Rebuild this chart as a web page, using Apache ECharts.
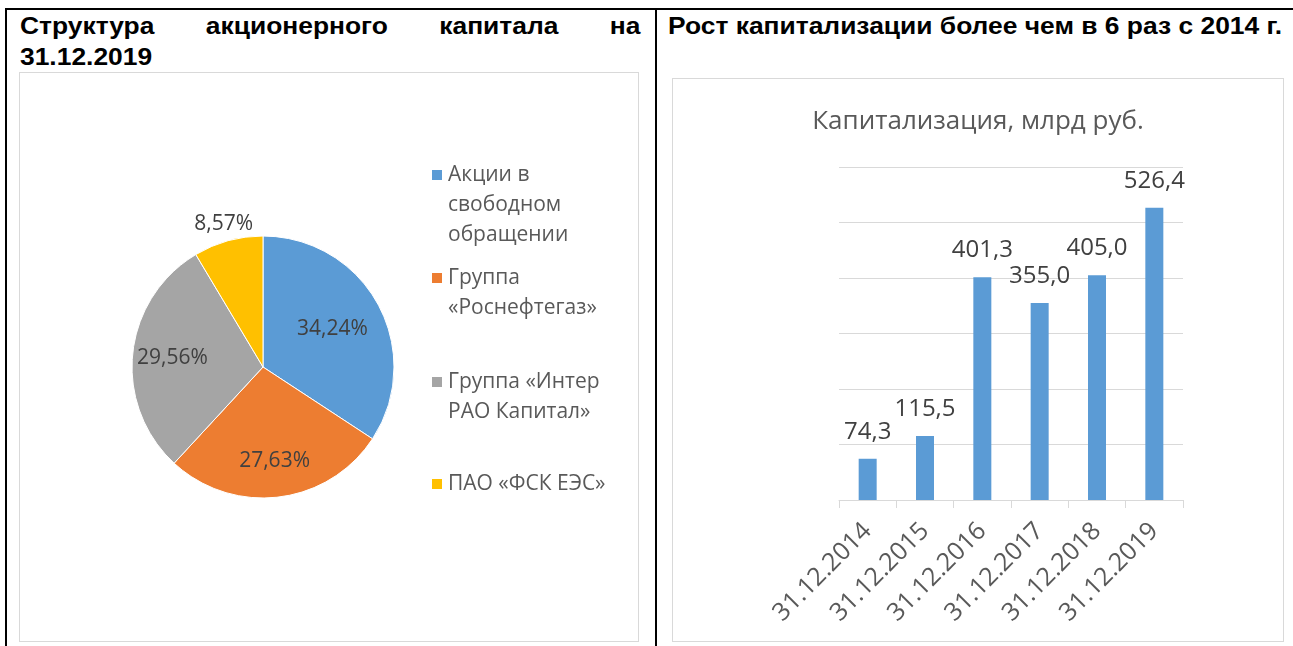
<!DOCTYPE html>
<html>
<head>
<meta charset="utf-8">
<script src="https://cdn.jsdelivr.net/npm/echarts@6/dist/echarts.min.js"></script>
<style>
  html, body {
    margin: 0;
    padding: 0;
    width: 1293px;
    height: 646px;
    overflow: hidden;
    background: #fff;
  }
  .line {
    position: absolute;
    background: #000;
  }
  .head {
    position: absolute;
    font-family: 'Liberation Sans', Arial, sans-serif;
    font-weight: bold;
    font-size: 24px;
    line-height: 31px;
    color: #000;
    transform: scaleX(1.1);
    transform-origin: 0 0;
  }
  .head-row {
    display: flex;
    justify-content: space-between;
  }
  .box {
    position: absolute;
    box-sizing: border-box;
    border: 1px solid #d9d9d9;
  }
  .chart {
    width: 100%;
    height: 100%;
  }
</style>
</head>
<body>
  <div class="line" style="left:5px; top:8px; width:1288px; height:2px;"></div>
  <div class="line" style="left:5px; top:8px; width:2px; height:638px;"></div>
  <div class="line" style="left:655px; top:8px; width:2px; height:638px;"></div>

  <div class="head" style="left:20px; top:10px; width:564px;">
    <div class="head-row"><span>Структура</span><span>акционерного</span><span>капитала</span><span>на</span></div>
    <div>31.12.2019</div>
  </div>
  <div class="head" style="left:668px; top:10px; width:570px; white-space:nowrap;">Рост капитализации более чем в 6 раз с 2014 г.</div>

  <div class="box" style="left:19px; top:72px; width:620px; height:570px;">
    <div class="chart" id="pieChart"></div>
  </div>
  <div class="box" style="left:672px; top:78px; width:612px; height:564px;">
    <div class="chart" id="barChart"></div>
  </div>

<script>
// структура акционерного капитала, %
const shareNames = ['Акции в свободном обращении', 'Группа «Роснефтегаз»', 'Группа «Интер РАО Капитал»', 'ПАО «ФСК ЕЭС»']
const shareLabels = ['Акции в\nсвободном\nобращении', 'Группа\n«Роснефтегаз»', 'Группа «Интер\nРАО Капитал»', 'ПАО «ФСК ЕЭС»']
const shareValues = [34.24, 27.63, 29.56, 8.57]

// капитализация, млрд руб.
const capDates = ['31.12.2014', '31.12.2015', '31.12.2016', '31.12.2017', '31.12.2018', '31.12.2019']
const capValues = [74.3, 115.5, 401.3, 355.0, 405.0, 526.4]

const FONT = "'Open Sans', 'Noto Sans', sans-serif"
const pieColors = ['#5b9bd5', '#ed7d31', '#a5a5a5', '#ffc000']

// геометрия круга и подписей (в пикселях контейнера)
const pieCx = 243
const pieCy = 294
const pieR = 131
const labelDist = [79, 95, 91, 148]
const legendTops = [87, 190, 294, 396]
const LEGEND_LH = 30
const MARK = 12

const pieChart = echarts.init(document.getElementById('pieChart'))

const total = shareValues.reduce((a, b) => a + b, 0)
const midAngle = (i) => {
  let before = 0
  for (let k = 0; k < i; k++) before += shareValues[k]
  return (before + shareValues[i] / 2) / total * Math.PI * 2
}

// маркер легенды выровнен по первой строке подписи
const legendIcon = (lines) => {
  const h = MARK + (lines - 1) * LEGEND_LH
  if (lines === 1) return { icon: 'rect', h }
  return { icon: 'path://M0 0H12V12H0Z M0 ' + (h - 0.01) + 'H0.01V' + h + 'H0Z', h }
}

pieChart.setOption({
  animation: false,
  color: pieColors,
  legend: shareNames.map((name, i) => {
    const ic = legendIcon(shareLabels[i].split('\n').length)
    return {
      data: [name],
      left: 410,
      top: legendTops[i],
      padding: 0,
      icon: ic.icon,
      itemWidth: MARK,
      itemHeight: ic.h,
      selectedMode: false,
      formatter: () => shareLabels[i],
      textStyle: {
        fontFamily: FONT,
        fontSize: 21,
        color: '#595959',
        lineHeight: LEGEND_LH
      }
    }
  }),
  series: [
    {
      type: 'pie',
      center: [pieCx, pieCy],
      radius: pieR,
      startAngle: 90,
      clockwise: true,
      data: shareNames.map((name, i) => ({ name, value: shareValues[i] })),
      itemStyle: {
        borderColor: '#fff',
        borderWidth: 1
      },
      label: {
        show: true,
        position: 'inside',
        formatter: (p) => p.value.toFixed(2).replace('.', ',') + '%',
        fontFamily: FONT,
        fontSize: 21,
        color: '#404040'
      },
      labelLine: { show: false },
      labelLayout: (p) => {
        const a = midAngle(p.dataIndex)
        const d = labelDist[p.dataIndex]
        return {
          x: pieCx + d * Math.sin(a),
          y: pieCy - d * Math.cos(a)
        }
      },
      emphasis: { disabled: true }
    }
  ]
})

const barChart = echarts.init(document.getElementById('barChart'))

barChart.setOption({
  animation: false,
  title: {
    text: 'Капитализация, млрд руб.',
    left: 'center',
    top: 25,
    textStyle: {
      fontFamily: FONT,
      fontSize: 26,
      fontWeight: 'normal',
      color: '#595959'
    }
  },
  grid: {
    left: 166,
    right: 100,
    top: 88,
    bottom: 141
  },
  xAxis: {
    type: 'category',
    data: capDates,
    axisLine: {
      lineStyle: { color: '#d9d9d9', width: 1 }
    },
    axisTick: {
      show: true,
      length: 8,
      lineStyle: { color: '#d9d9d9' }
    },
    axisLabel: {
      rotate: 45,
      margin: 27,
      fontFamily: FONT,
      fontSize: 25,
      color: '#595959'
    }
  },
  yAxis: {
    type: 'value',
    min: 0,
    max: 600,
    interval: 100,
    axisLabel: { show: false },
    axisLine: { show: false },
    axisTick: { show: false },
    splitLine: {
      lineStyle: { color: '#d9d9d9', width: 1 }
    }
  },
  series: [
    {
      type: 'bar',
      data: capValues,
      barWidth: 18,
      itemStyle: { color: '#5b9bd5' },
      label: {
        show: true,
        position: 'top',
        distance: 15,
        formatter: (p) => p.value.toFixed(1).replace('.', ','),
        fontFamily: FONT,
        fontSize: 24,
        color: '#404040'
      },
      emphasis: { disabled: true }
    }
  ]
})
</script>
</body>
</html>
